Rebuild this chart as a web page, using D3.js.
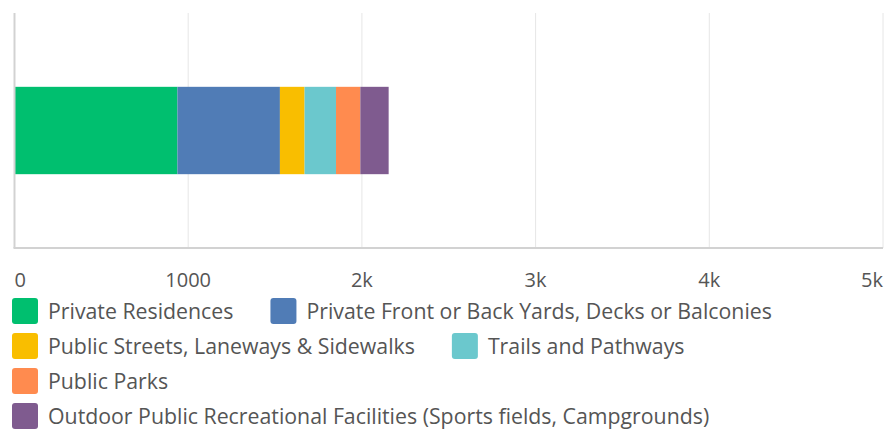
<!DOCTYPE html>
<html>
<head>
<meta charset="utf-8">
<script src="https://cdn.jsdelivr.net/npm/d3@7"></script>
<style>
  html, body { margin: 0; padding: 0; background: #fff; }
  svg { display: block; font-family: "Open Sans", "Liberation Sans", sans-serif; }
</style>
</head>
<body>
<div id="chart"></div>
<script>
// Categories (stack order, left to right)
const categories = [
  "Private Residences",
  "Private Front or Back Yards, Decks or Balconies",
  "Public Streets, Laneways & Sidewalks",
  "Trails and Pathways",
  "Public Parks",
  "Outdoor Public Recreational Facilities (Sports fields, Campgrounds)"
];
const values = [938, 590, 142, 181, 140, 163];
const colors = ["#00bf6f", "#507cb6", "#f9be00", "#6bc8cd", "#ff8b4f", "#7f5b8f"];

const tickValues = [0, 1000, 2000, 3000, 4000, 5000];
const tickLabels = ["0", "1000", "2k", "3k", "4k", "5k"];

const W = 890, H = 429;
const plot = { left: 14.5, right: 883, top: 13, bottom: 248 };

const svg = d3.select("#chart").append("svg")
  .attr("width", W)
  .attr("height", H);

const x = d3.scaleLinear()
  .domain([0, 5000])
  .range([plot.left, plot.right]);

const y = d3.scaleBand()
  .domain(["all"])
  .range([plot.top, plot.bottom])
  .padding(0.458);

// one row, stacked by category
const row = { key: "all" };
categories.forEach((c, i) => { row[c] = values[i]; });
const stacked = d3.stack().keys(categories)([row]);

// gridlines
svg.append("g")
  .selectAll("line")
  .data(tickValues.slice(1))
  .join("line")
  .attr("x1", d => x(d)).attr("x2", d => x(d))
  .attr("y1", plot.top).attr("y2", plot.bottom)
  .attr("stroke", "#e6e6e6")
  .attr("stroke-width", 1);

// bars
svg.append("g")
  .selectAll("rect")
  .data(stacked)
  .join("rect")
  .attr("x", d => x(d[0][0]))
  .attr("width", d => x(d[0][1]) - x(d[0][0]))
  .attr("y", y("all"))
  .attr("height", y.bandwidth())
  .attr("fill", (d, i) => colors[i]);

// axis lines (left + bottom)
svg.append("line")
  .attr("x1", plot.left).attr("x2", plot.left)
  .attr("y1", plot.top).attr("y2", plot.bottom)
  .attr("stroke", "#d2d2d2").attr("stroke-width", 2);
svg.append("line")
  .attr("x1", plot.left - 1).attr("x2", plot.right)
  .attr("y1", plot.bottom).attr("y2", plot.bottom)
  .attr("stroke", "#d2d2d2").attr("stroke-width", 2);

// tick labels: first left-aligned, last right-aligned, rest centred
svg.append("g")
  .selectAll("text")
  .data(tickValues)
  .join("text")
  .attr("x", d => x(d))
  .attr("y", 287)
  .attr("text-anchor", (d, i) => i === 0 ? "start" : (i === tickValues.length - 1 ? "end" : "middle"))
  .attr("fill", "#555")
  .style("font-size", "20px")
  .text((d, i) => tickLabels[i]);

// legend: flow layout, wraps at maxWidth
const legend = svg.append("g");
const sw = 26, gapText = 10, gapItem = 37, rowH = 35, maxWidth = 850;
let lx = 12, ly = 298;

categories.forEach((c, i) => {
  const g = legend.append("g");
  const t = g.append("text")
    .attr("x", sw + gapText)
    .attr("y", sw / 2 + 8)
    .attr("fill", "#555")
    .style("font-size", "21.3px")
    .text(c);
  const tw = t.node().getComputedTextLength();
  const itemW = sw + gapText + tw;
  if (lx > 12 && lx + itemW > 12 + maxWidth) {
    lx = 12;
    ly += rowH;
  }
  g.attr("transform", `translate(${lx},${ly})`);
  g.insert("rect", "text")
    .attr("width", sw).attr("height", sw)
    .attr("rx", 3)
    .attr("fill", colors[i]);
  lx += itemW + gapItem;
});
</script>
</body>
</html>
